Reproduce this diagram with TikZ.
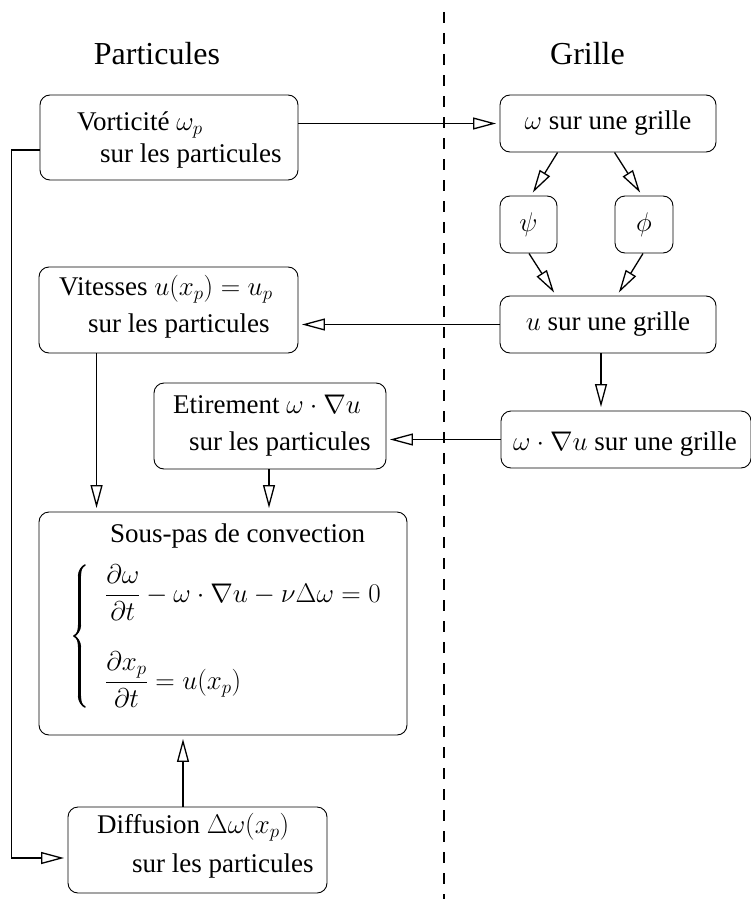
\RequirePackage{fix-cm}
\documentclass[tikz,border=0pt]{standalone}
\usepackage{amsmath}
\usepackage{fontspec}
\setmainfont{Liberation Serif}
\usetikzlibrary{arrows.meta,decorations.pathreplacing,calligraphy}
\tikzset{
  boxnode/.style={draw, line width=0.9pt, rounded corners=10pt, inner sep=0pt, font=\fontsize{27}{33}\selectfont},
  txt/.style={inner sep=0pt, anchor=base west, font=\fontsize{27}{33}\selectfont},
  ttl/.style={inner sep=0pt, anchor=base, font=\fontsize{32}{38}\selectfont},
  arr/.style={line width=1.3pt, -{Triangle[open, length=23pt, width=12pt, line width=1.3pt]}, shorten >=3.5pt},
  sep/.style={line width=1.2pt, dash pattern=on 11pt off 10pt},
  bigbrace/.style={decorate, decoration={calligraphic brace, amplitude=11pt}, line width=3.2pt}
}
\begin{document}
\begin{tikzpicture}[x=1pt, y=-1pt]
\useasboundingbox (0,0) rectangle (751,899);
% separator
\coordinate (septop) at (444,12);
\coordinate (sepbot) at (444,899);
\draw[sep] (septop) -- (sepbot);
% titles
\node[ttl] (tpart) at (157,65) {Particules};
\node[ttl] (tgrid) at (587.5,65) {Grille};
% boxes
\node[boxnode, minimum width=258pt, minimum height=85pt] (vort) at (169,137.5) {};
\node[txt] (vort1) at (77,130) {Vorticité $\omega_p$};
\node[txt] (vort2) at (100,162) {sur les particules};

\node[boxnode, minimum width=216pt, minimum height=57pt] (omg) at (608,123.5) {$\omega$ sur une grille};
\node[boxnode, minimum width=57pt, minimum height=57pt] (psi) at (528.5,224.5) {$\psi$};
\node[boxnode, minimum width=58pt, minimum height=57pt] (phi) at (644,224.5) {$\phi$};
\node[boxnode, minimum width=216pt, minimum height=57pt] (ugr) at (608,324.5) {$u$ sur une grille};

\node[boxnode, minimum width=259pt, minimum height=86pt] (vit) at (168.5,310) {};
\node[txt] (vit1) at (59,295) {Vitesses $u(x_p)=u_p$};
\node[txt] (vit2) at (88,332) {sur les particules};

\node[boxnode, minimum width=232pt, minimum height=86pt] (etir) at (270,426) {};
\node[txt] (etir1) at (173,413) {Etirement $\omega\cdot\nabla u$};
\node[txt] (etir2) at (189,450) {sur les particules};

\node[boxnode, minimum width=250pt, minimum height=57pt] (wgr) at (626,439.5) {};
\node[txt] (wgr1) at (513,450) {$\omega\cdot\nabla u$ sur une grille};

\node[boxnode, minimum width=368pt, minimum height=223pt] (sous) at (223,623.5) {};
\node[txt] (sous1) at (110,542) {Sous-pas de convection};
\coordinate (bracebot) at (85,707);
\coordinate (bracetop) at (85,565);
\draw[bigbrace] (bracebot) -- (bracetop);
\node[txt] (eq1) at (105,602)
  {$\dfrac{\partial\omega}{\partial t}-\omega\cdot\nabla u-\nu\Delta\omega=0$};
\node[txt] (eq2) at (105,689)
  {$\dfrac{\partial x_p}{\partial t}=u(x_p)$};

\node[boxnode, minimum width=259pt, minimum height=86pt] (diff) at (197.5,850) {};
\node[txt] (diff1) at (97,833) {Diffusion $\Delta\omega(x_p)$};
\node[txt] (diff2) at (132,872) {sur les particules};

% connectors
\draw[arr] (omg.west -| vort.east) -- (omg.west);
\draw[arr] ([xshift=58pt]omg.south west) -- ([xshift=2.5pt]psi.north);
\draw[arr] ([xshift=115pt]omg.south west) -- ([xshift=-2pt]phi.north);
\draw[arr] ([xshift=0.5pt]psi.south) -- ([xshift=-52pt]ugr.north);
\draw[arr] ([xshift=-1pt]phi.south) -- ([xshift=9pt]ugr.north);
\draw[arr] (ugr.west) -- (ugr.west -| vit.east);
\draw[arr] ([xshift=-7pt]ugr.south) -- ([xshift=-7pt]ugr.south |- wgr.north);
\draw[arr] (wgr.west) -- (wgr.west -| etir.east);
\draw[arr] ([xshift=58pt]vit.south west) -- ([xshift=58pt]vit.south west |- sous.north);
\draw[arr] ([xshift=-1pt]etir.south) -- ([xshift=-1pt]etir.south |- sous.north);
\draw[arr] ([xshift=-14.5pt]diff.north) -- ([xshift=-14.5pt]diff.north |- sous.south);
\draw[arr] ([yshift=-12.5pt]vort.west) -- ++(-28pt,0) |- ([yshift=-8pt]diff.west);
\end{tikzpicture}
\end{document}
